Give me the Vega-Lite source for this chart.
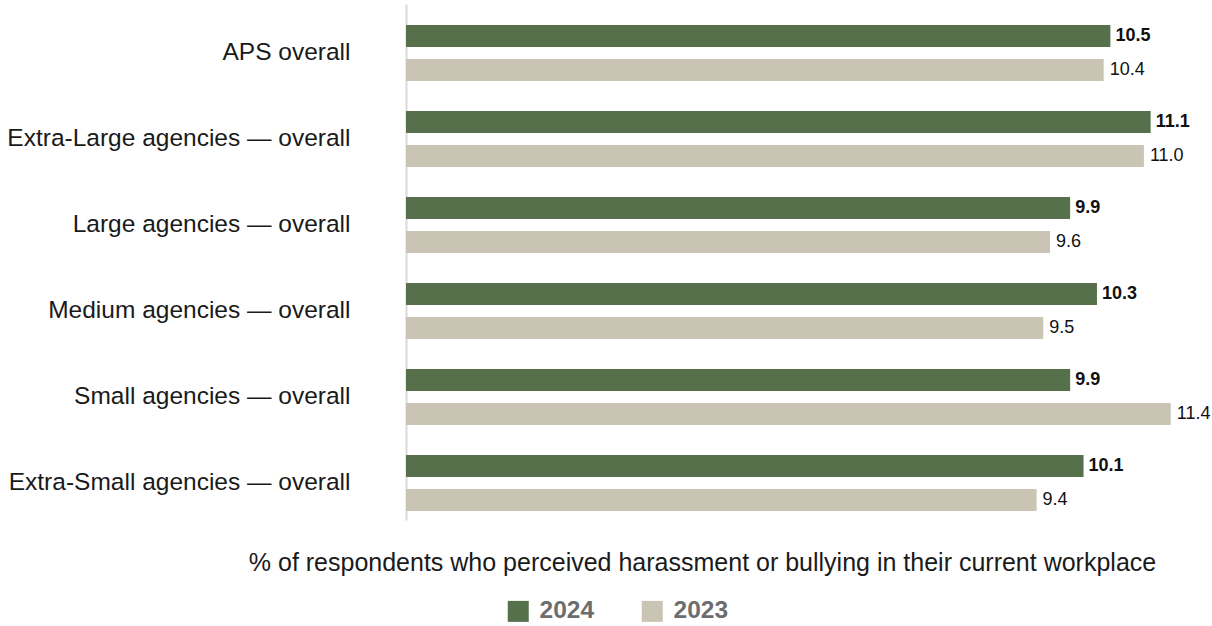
{
  "$schema": "https://vega.github.io/schema/vega-lite/v6.json",
  "width": 805,
  "height": 516,
  "autosize": "none",
  "padding": {"left": 406, "top": 4, "right": 1, "bottom": 106},
  "config": {"view": {"stroke": null}, "font": "Liberation Sans"},
  "data": {
    "values": [
      {"group": "APS overall", "year": "2024", "value": 10.5},
      {"group": "APS overall", "year": "2023", "value": 10.4},
      {"group": "Extra-Large agencies — overall", "year": "2024", "value": 11.1},
      {"group": "Extra-Large agencies — overall", "year": "2023", "value": 11.0},
      {"group": "Large agencies — overall", "year": "2024", "value": 9.9},
      {"group": "Large agencies — overall", "year": "2023", "value": 9.6},
      {"group": "Medium agencies — overall", "year": "2024", "value": 10.3},
      {"group": "Medium agencies — overall", "year": "2023", "value": 9.5},
      {"group": "Small agencies — overall", "year": "2024", "value": 9.9},
      {"group": "Small agencies — overall", "year": "2023", "value": 11.4},
      {"group": "Extra-Small agencies — overall", "year": "2024", "value": 10.1},
      {"group": "Extra-Small agencies — overall", "year": "2023", "value": 9.4}
    ]
  },
  "encoding": {
    "y": {
      "field": "group",
      "type": "nominal",
      "sort": ["APS overall", "Extra-Large agencies — overall", "Large agencies — overall", "Medium agencies — overall", "Small agencies — overall", "Extra-Small agencies — overall"],
      "scale": {"paddingInner": 0, "paddingOuter": 0},
      "axis": {
        "title": null,
        "ticks": false,
        "grid": false,
        "domain": true,
        "domainColor": "#d9d9d9",
        "domainWidth": 2,
        "labelPadding": 56,
        "labelOffset": 6,
        "labelFontSize": 24.5,
        "labelColor": "#1a1a1a",
        "labelLimit": 400
      }
    },
    "yOffset": {
      "field": "year",
      "type": "nominal",
      "sort": ["2024", "2023"],
      "scale": {"paddingInner": 0.353, "paddingOuter": 0.441, "align": 0.7}
    },
    "x": {
      "field": "value",
      "type": "quantitative",
      "scale": {"domain": [0, 12], "nice": false},
      "axis": {
        "title": "% of respondents who perceived harassment or bullying in their current workplace",
        "labels": false,
        "ticks": false,
        "grid": false,
        "domain": false,
        "titleFontSize": 25,
        "titleFontWeight": "normal",
        "titleColor": "#1a1a1a",
        "titleX": 296,
        "titleY": 42,
        "titleAlign": "center",
        "titleBaseline": "middle"
      }
    }
  },
  "layer": [
    {
      "mark": {"type": "bar"},
      "encoding": {
        "color": {
          "field": "year",
          "type": "nominal",
          "sort": ["2024", "2023"],
          "scale": {"domain": ["2024", "2023"], "range": ["#55704b", "#c9c4b4"]},
          "legend": {
            "title": null,
            "orient": "none",
            "direction": "horizontal",
            "legendX": 100,
            "legendY": 595,
            "symbolType": "square",
            "symbolSize": 441,
            "symbolStrokeWidth": 0,
            "labelFontSize": 24.5,
            "labelFontWeight": "bold",
            "labelColor": "#6d6d6d",
            "labelOffset": 9,
            "columnPadding": 45
          }
        }
      }
    },
    {
      "transform": [{"filter": "datum.year === '2024'"}],
      "mark": {"type": "text", "align": "left", "baseline": "middle", "dx": 5, "fontSize": 18, "fontWeight": "bold", "color": "#111111"},
      "encoding": {"text": {"field": "value", "type": "quantitative", "format": ".1f"}}
    },
    {
      "transform": [{"filter": "datum.year === '2023'"}],
      "mark": {"type": "text", "align": "left", "baseline": "middle", "dx": 6, "fontSize": 18, "color": "#111111"},
      "encoding": {"text": {"field": "value", "type": "quantitative", "format": ".1f"}}
    }
  ]
}
